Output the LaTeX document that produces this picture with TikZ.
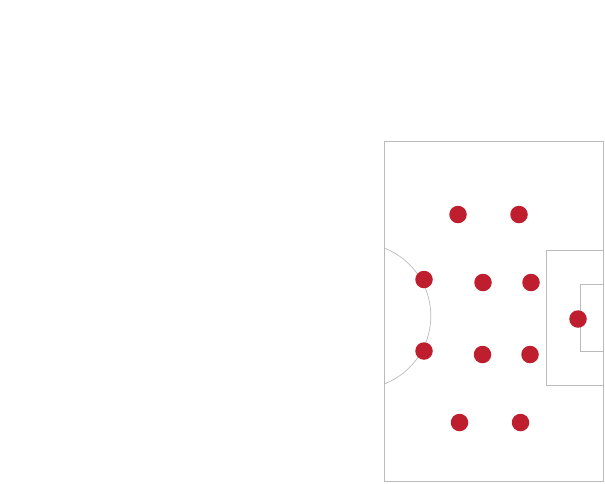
\documentclass[tikz,border=0pt]{standalone}
\usepackage{tikz}

\definecolor{pitchline}{HTML}{BBBBBB}
\definecolor{shirt}{HTML}{BE1E2D}

\begin{document}
\begin{tikzpicture}[x=1pt, y=-1pt,
	line/.style={draw=pitchline, line width=0.9pt},
	player/.style={circle, fill=shirt, minimum size=17.5pt, inner sep=0pt}]
	\useasboundingbox (0,0) rectangle (605,483);
	% half pitch
	\draw[line] (384,141.5) rectangle (603,481);
	\draw[line] (603,250) -| (546,385.5) -- (603,385.5);
	\draw[line] (603,284) -| (580,351.5) -- (603,351.5);
	\begin{scope}
		\clip (384,141.5) rectangle (603,481);
		\draw[line, line width=0.7pt] (358,316) circle (72.8);
	\end{scope}
	% players
	\node[player] (gk) at (578,319) {};
	\node[player] (lcb) at (531,282.5) {};
	\node[player] (rcb) at (530,354.5) {};
	\node[player] (lcm) at (483,282.5) {};
	\node[player] (rcm) at (482.5,354.5) {};
	\node[player] (lb) at (519,214.5) {};
	\node[player] (rb) at (520.5,422.5) {};
	\node[player] (lw) at (458,214.5) {};
	\node[player] (rw) at (459.5,422.5) {};
	\node[player] (lst) at (424,279.5) {};
	\node[player] (rst) at (424,351) {};
\end{tikzpicture}
\end{document}
